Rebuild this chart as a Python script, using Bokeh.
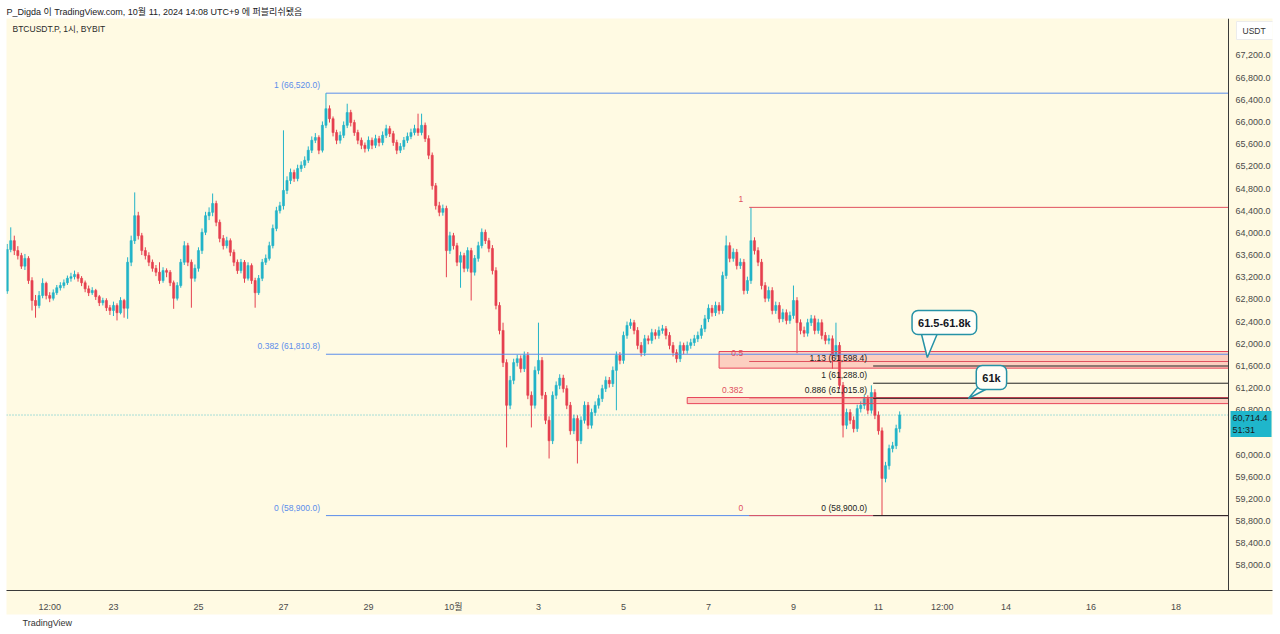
import pandas as pd
from bokeh.plotting import figure
from bokeh.models import ColumnDataSource, Range1d, FixedTicker, Label, Span, Title
from bokeh.core.properties import value
from bokeh.embed import file_html
from bokeh.resources import INLINE

# ---------------- data (BTCUSDT.P, 2h buckets) ----------------
first_open = 62950
close = [
    63700, 63860, 63680, 63590, 63400, 63540,
    63140, 62780, 62690, 62870, 63090, 62870, 62820, 62920, 63010, 63050, 63100, 63180,
    63210, 63250, 63180, 63100, 62990, 62920, 62960, 62850, 62740, 62780, 62650, 62600,
    62690, 62560, 62780, 62640, 63470, 63860, 64310, 63950, 63680, 63590, 63470, 63360,
    63290, 63140, 63320, 63290, 63100, 62820, 63050, 63470, 63770, 63470, 63180, 63360,
    63680, 64010, 64310, 64370, 64530, 64190, 63900, 63770, 63860, 63650, 63470, 63320,
    63470, 63180, 63410, 63140, 62920, 63180, 63470, 63540, 63770, 64080, 64400, 64490,
    64765, 64945, 65090, 64980, 65160, 65220, 65310, 65490, 65670, 65720, 65490, 65940,
    66240, 66060, 65810, 65670, 65760, 65940, 66170, 65990, 65810, 65670, 65580, 65520,
    65670, 65580, 65700, 65630, 65760, 65880, 65790, 65630, 65490, 65560, 65670, 65740,
    65810, 65880, 65810, 65940, 65700, 65400, 64850, 64490, 64370, 64440, 63680, 63950,
    63770, 63470, 63590, 63360, 63680, 63290, 63540, 63770, 64010, 63860, 63720, 63320,
    62690, 62240, 61660, 60890, 61340, 61660, 61730, 61550, 61790, 61070, 60890, 61520,
    61700, 61070, 60620, 60250, 61070, 61250, 61380, 61190, 60890, 60430, 60650, 60250,
    60620, 60890, 60530, 60760, 60890, 61010, 61190, 61340, 61280, 61520, 61790, 61700,
    62150, 62330, 62380, 62240, 61970, 61840, 62090, 62060, 62200, 62150, 62240, 62270,
    62150, 61970, 61840, 61730, 61970, 61880, 61970, 62020, 62090, 62150, 62270, 62450,
    62640, 62560, 62690, 62600, 63230, 63770, 63540, 63650, 63410, 63470, 62960, 63140,
    63860, 63680, 63470, 63050, 62820, 62960, 62600, 62690, 62450, 62560, 62420, 62510,
    62780, 62380, 62240, 62190, 62380, 62450, 62240, 62380, 62150, 62060, 62090, 61790,
    61970, 61250, 60530, 60760, 60620, 60470, 60830, 60890, 61010, 60800, 61120, 60710,
    60430, 59570, 59800, 60110, 60160, 60470, 60714.4,
]
high = [
    63800, 64100, 63950, 63760, 63640, 63620,
    63580, 63200, 62880, 62950, 63180, 63120, 62930, 62980, 63060, 63110, 63160, 63230,
    63280, 63320, 63290, 63220, 63140, 63050, 63020, 62990, 62880, 62830, 62820, 62700,
    62760, 62730, 62840, 62810, 63560, 63950, 64730, 64380, 64000, 63740, 63650, 63520,
    63420, 63470, 63380, 63360, 63330, 63140, 63110, 63530, 63850, 63820, 63520, 63430,
    63740, 64080, 64380, 64460, 64710, 64580, 64240, 63960, 63930, 63900, 63700, 63520,
    63530, 63510, 63470, 63450, 63190, 63240, 63530, 63610, 63840, 64150, 64470, 64560,
    65850, 65020, 65160, 65140, 65230, 65290, 65380, 65560, 65740, 65800, 65760, 66010,
    66520, 66300, 66100, 65860, 65830, 66010, 66330, 66220, 66040, 65860, 65720, 65630,
    65740, 65720, 65770, 65750, 65830, 65950, 65930, 65840, 65680, 65620, 65730, 65810,
    65880, 65950, 66150, 66150, 65990, 65760, 65450, 64900, 64560, 64510, 64490, 64020,
    64000, 63820, 63660, 63640, 63740, 63730, 63600, 63840, 64080, 64060, 63910, 63780,
    63380, 62750, 62380, 61720, 61420, 61730, 61800, 61790, 61860, 61850, 61140, 61590,
    62380, 61760, 61130, 60690, 61140, 61320, 61450, 61440, 61250, 60950, 60720, 60710,
    60690, 60960, 60950, 60830, 60960, 61080, 61260, 61410, 61400, 61590, 61860, 61850,
    62220, 62400, 62450, 62430, 62300, 62030, 62160, 62150, 62270, 62260, 62310, 62340,
    62320, 62210, 62030, 61900, 62040, 62020, 62040, 62090, 62160, 62220, 62340, 62520,
    62710, 62700, 62760, 62750, 63300, 63950, 63830, 63720, 63710, 63540, 63530, 63210,
    64460, 63920, 63740, 63530, 63110, 63030, 63020, 62760, 62750, 62630, 62620, 62580,
    63050, 62840, 62440, 62310, 62450, 62520, 62510, 62450, 62440, 62210, 62160, 62150,
    62380, 62030, 61310, 60830, 60820, 60690, 60900, 60960, 61080, 61070, 61250, 61180,
    60780, 60490, 59870, 60180, 60230, 60540, 60780,
]
low = [
    62900, 63650, 63600, 63520, 63350, 63330,
    63080, 62600, 62470, 62640, 62820, 62800, 62750, 62780, 62880, 62960, 63000, 63060,
    63120, 63160, 63120, 63040, 62930, 62860, 62880, 62790, 62680, 62690, 62590, 62520,
    62500, 62420, 62530, 62470, 62450, 63400, 63800, 63880, 63600, 63520, 63400, 63300,
    63220, 63080, 63100, 63200, 63040, 62630, 62780, 63010, 63420, 63400, 62650, 63120,
    63300, 63620, 63960, 64230, 64300, 64120, 63830, 63700, 63720, 63580, 63400, 63260,
    63270, 63100, 63140, 63080, 62650, 62880, 63130, 63420, 63500, 63720, 64030, 64350,
    64420, 64700, 64880, 64920, 64930, 65100, 65170, 65260, 65440, 65620, 65420, 65450,
    65890, 65990, 65740, 65600, 65610, 65710, 65890, 65920, 65750, 65600, 65510, 65450,
    65470, 65510, 65530, 65560, 65580, 65710, 65730, 65570, 65420, 65440, 65500, 65620,
    65690, 65760, 65750, 65760, 65640, 65330, 64780, 64420, 64300, 64310, 63200, 63620,
    63700, 63400, 63010, 63290, 63300, 62780, 63230, 63480, 63720, 63800, 63650, 63250,
    62620, 62170, 61580, 60130, 60820, 61270, 61590, 61480, 61490, 61000, 60490, 60830,
    61450, 61000, 60550, 59930, 60190, 61000, 61180, 61120, 60820, 60360, 60370, 59840,
    60190, 60560, 60460, 60470, 60700, 60830, 60950, 61130, 61210, 61220, 60800, 61630,
    61640, 62090, 62270, 62170, 61900, 61770, 61780, 61990, 62000, 62080, 62090, 62180,
    62080, 61900, 61770, 61660, 61670, 61810, 61820, 61910, 61960, 62030, 62090, 62210,
    62390, 62490, 62500, 62530, 62540, 63170, 63470, 63480, 63340, 63350, 62890, 62900,
    63080, 63610, 63400, 62980, 62750, 62760, 62530, 62540, 62380, 62390, 62350, 62360,
    62450, 61830, 62170, 62120, 62130, 62320, 62170, 62180, 62080, 61990, 61990, 61550,
    61720, 61180, 60310, 60460, 60550, 60400, 60410, 60760, 60820, 60730, 60740, 60640,
    60360, 58900, 59500, 59730, 60040, 60100, 60400,
]
first_bar = "2024-09-20 12:00"
bar_freq = "2h"
last_price = 60714.4
countdown = "51:31"

# tick positions (hours from 2024-09-23 00:00) and labels
time_ticks = [-36, 0, 48, 96, 144, 192, 240, 288, 336, 384, 432, 468, 504, 552, 600]
time_labels = ["12:00", "23", "25", "27", "29", "10월", "3", "5", "7", "9", "11", "12:00", "14", "16", "18"]
price_ticks = [58000, 58400, 58800, 59200, 59600, 60000, 60400, 60800, 61200, 61600, 62000,
               62400, 62800, 63200, 63600, 64000, 64400, 64800, 65200, 65600, 66000, 66400,
               66800, 67200]

# fibonacci drawings
blue_fib_start = "2024-09-28 00:00"
blue_fib_top, blue_fib_bottom = 66520.0, 58900.0
blue_fib_levels = [1, 0.382, 0]
red_fib_start = "2024-10-07 23:00"
red_fib_top, red_fib_bottom = 64460.0, 58900.0
red_fib_levels = [1, 0.5, 0.382, 0]
black_fib_start = "2024-10-10 21:00"
black_fib_top, black_fib_bottom = 61288.0, 58900.0
black_fib_levels = [1.13, 1, 0.886, 0]

# zones
zone_start = ["2024-10-07 06:00", "2024-10-06 12:00"]
zone_bottom = [61560, 60920]
zone_top = [61860, 61030]

# callouts
callout_text = ["61.5-61.8k", "61k"]
callout_time = ["2024-10-12 13:12", "2024-10-13 15:48"]
callout_price = [62383, 61391]
tail_time = [["2024-10-12 00:12", "2024-10-12 03:36", "2024-10-12 09:18"],
             ["2024-10-13 08:00", "2024-10-13 02:48", "2024-10-13 14:36"]]
tail_price = [[62185, 61752, 62185], [61211, 61012, 61211]]

# ---------------- helpers ----------------
T0 = pd.Timestamp("2024-09-23 00:00")


def hrs(ts):
    return (pd.Timestamp(ts) - T0) / pd.Timedelta(hours=1)


PX_PER_H = 42.5 / 24.0
FL, FT, FW, FH = 6, 18, 1266, 572  # frame placement on the page (chart pane + price scale)
XS = -60.4
XE = XS + FW / PX_PER_H
YS, YE = 57549.0, 67867.0


def px2x(px):
    return XS + (px - FL) / PX_PER_H


def px2y(py):
    return YE - (py - FT) * (YE - YS) / FH


PANE_END = px2x(1228)  # where the price scale starts

BG = "#FFFAE3"
UP = "#22B3C8"
DOWN = "#E5404F"
BLUE = "#5B8DEB"
RED = "#E0505F"
DARK = "#222222"
FONT = "Liberation Sans, Noto Sans CJK KR"

times = pd.date_range(first_bar, periods=len(close), freq=bar_freq)
hours = [hrs(t) for t in times]
opens = [first_open] + close[:-1]
colors = [UP if c >= o else DOWN for o, c in zip(opens, close)]
src = ColumnDataSource(dict(
    x=hours, open=opens, close=close, high=high, low=low,
    top=[max(o, c) for o, c in zip(opens, close)],
    bottom=[min(o, c) for o, c in zip(opens, close)],
    color=colors,
))

p = figure(width=1280, height=634, output_backend="svg", toolbar_location=None,
           x_range=Range1d(XS, XE), y_range=Range1d(YS, YE),
           y_axis_location=None,
           min_border_left=FL, min_border_top=FT, min_border_right=1280 - FL - FW,
           min_border_bottom=634 - FT - FH)
p.background_fill_color = BG
p.border_fill_color = "white"
p.outline_line_color = None
p.xgrid.visible = False
p.ygrid.visible = False

p.title.text = "P_Digda 이 TradingView.com, 10월 11, 2024 14:08 UTC+9 에 퍼블리쉬됐음"
p.title.align = "left"
p.title.text_font = FONT
p.title.text_font_size = "9px"
p.title.text_font_style = "normal"
p.title.text_color = "#222222"
p.title.standoff = 4

ax = p.xaxis[0]
ax.axis_line_color = "#3a3a3a"
ax.major_tick_line_color = None
ax.minor_tick_line_color = None
ax.major_label_text_font = FONT
ax.major_label_text_font_size = "9px"
ax.major_label_text_color = "#4a4a4a"
ax.major_label_standoff = 5
ax.ticker = FixedTicker(ticks=time_ticks)
ax.major_label_overrides = {t: l for t, l in zip(time_ticks, time_labels)}
try:
    ax.background_fill_color = BG
except Exception:
    pass

p.add_layout(Title(text="TradingView", align="left", offset=16, text_font=FONT,
                   text_font_size="9px", text_font_style="normal", text_color="#333333",
                   standoff=2), "below")

# price scale (right pane of the chart)
p.add_layout(Span(location=PANE_END, dimension="height", line_color="#3a3a3a", line_width=1))
p.text(x=[px2x(1235)] * len(price_ticks), y=price_ticks,
       text=[f"{v:,.1f}" for v in price_ticks], text_align="left", text_baseline="middle",
       text_font=value("Liberation Sans"), text_font_size="9px", text_color="#4a4a4a")

# current price dotted line
p.segment(x0=[XS], y0=[last_price], x1=[PANE_END], y1=[last_price], line_color=UP,
          line_dash="1 2", line_width=1, line_alpha=0.8)

# candles
p.segment(x0="x", y0="low", x1="x", y1="high", color="color", line_width=1, source=src)
p.vbar(x="x", width=1.2, top="top", bottom="bottom", fill_color="color",
       line_color="color", line_width=0.6, source=src)

# zones
p.quad(left=[hrs(z) for z in zone_start], right=[PANE_END] * len(zone_start),
       bottom=zone_bottom, top=zone_top, fill_color="#F23645", fill_alpha=0.22,
       line_color="#E8455A", line_width=1)


def fib(start, top, bottom, levels, color, labels, alpha=1.0):
    x0 = hrs(start)
    ys = [bottom + lv * (top - bottom) for lv in levels]
    p.segment(x0=[x0] * len(ys), y0=ys, x1=[PANE_END] * len(ys), y1=ys,
              line_color=color, line_width=1, line_alpha=alpha)
    p.text(x=[x0] * len(ys), y=ys, text=labels, text_color=color,
           text_font=value("Liberation Sans"), text_font_size="8.5px",
           text_align="right", text_baseline="middle", x_offset=-6, y_offset=-8)


def fmt(lv, top, bottom):
    return f"{lv:g} ({bottom + lv * (top - bottom):,.1f})"


fib(blue_fib_start, blue_fib_top, blue_fib_bottom, blue_fib_levels, BLUE,
    [fmt(l, blue_fib_top, blue_fib_bottom) for l in blue_fib_levels])
fib(red_fib_start, red_fib_top, red_fib_bottom, red_fib_levels, RED,
    [f"{l:g}" for l in red_fib_levels])
fib(black_fib_start, black_fib_top, black_fib_bottom, black_fib_levels, DARK,
    [fmt(l, black_fib_top, black_fib_bottom) for l in black_fib_levels])

# callouts
for tt, tp in zip(tail_time, tail_price):
    p.patch([hrs(t) for t in tt], tp, fill_color="#FFFEF7", line_color="#2692A6", line_width=1.5)
for txt, t, pr in zip(callout_text, callout_time, callout_price):
    p.add_layout(Label(x=hrs(t), y=pr, text=txt, text_align="center", text_baseline="middle",
                       text_font=FONT, text_font_size="11px", text_font_style="bold",
                       text_color="#131722", background_fill_color="#FFFEF7",
                       border_line_color="#2692A6", border_line_width=1.5,
                       border_radius=6, padding=6))

# legend + price-scale decorations
p.add_layout(Label(x=px2x(12), y=px2y(28), text="BTCUSDT.P, 1시, BYBIT", text_baseline="middle",
                   text_font=FONT, text_font_size="8.5px", text_color="#2a2a2a"))
p.add_layout(Label(x=px2x(1236), y=px2y(30), text="USDT", text_baseline="middle",
                   text_font=FONT, text_font_size="8.5px", text_color="#333333",
                   background_fill_color="white", border_line_color="#ececec",
                   padding=dict(left=6, right=14, top=4, bottom=4)))
p.add_layout(Label(x=px2x(1230), y=last_price, y_offset=4,
                   text=f"{last_price:,.1f}\n{countdown}",
                   text_baseline="top", text_font=FONT, text_font_size="9px",
                   text_color="#1a1a1a", background_fill_color="#1FB6CB",
                   padding=dict(left=2, right=4, top=2, bottom=2)))

open("out.html", "w").write(file_html(p, INLINE))
